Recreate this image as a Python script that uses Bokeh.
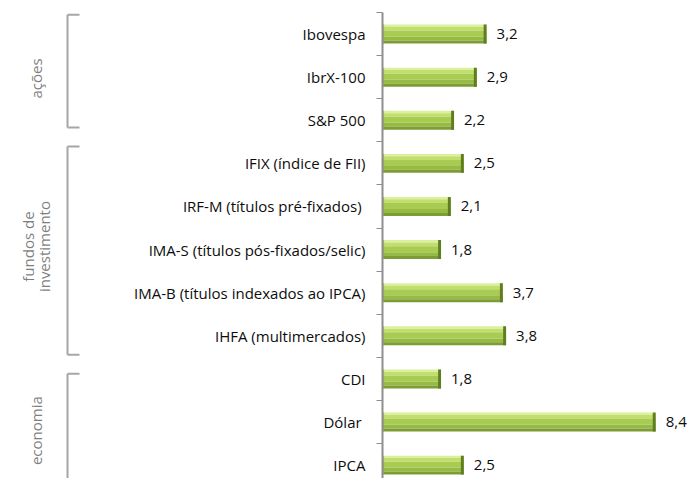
import numpy as np
from bokeh.plotting import figure
from bokeh.layouts import row
from bokeh.models import Range1d, FixedTicker, ColumnDataSource
from bokeh.core.properties import value
from bokeh.embed import file_html
from bokeh.resources import INLINE

# ---- data ----
categories = ["Ibovespa", "IbrX-100", "S&P 500", "IFIX (índice de FII)",
              "IRF-M (títulos  pré-fixados)", "IMA-S (títulos pós-fixados/selic)",
              "IMA-B (títulos indexados ao IPCA)", "IHFA (multimercados)",
              "CDI", "Dólar ", "IPCA"]
values = [3.2, 2.9, 2.2, 2.5, 2.1, 1.8, 3.7, 3.8, 1.8, 8.4, 2.5]
groups = ["ações", "fundos de investimento", "economia"]
group_lines = [["ações"], ["fundos de", "investimento"], ["economia"]]
group_sizes = [3, 5, 3]

FONT = "Open Sans"
n = len(categories)
idx = np.arange(n)
vals = np.array(values)
labels = [f"{v:.1f}".replace(".", ",") for v in values]

y_range = Range1d(start=n - 0.69, end=-0.5)

H = 478
# ---- main chart ----
p = figure(width=582, height=H, output_backend="svg", toolbar_location=None,
           x_range=Range1d(0, 9.44), y_range=y_range,
           min_border_left=275, min_border_right=0, min_border_top=12, min_border_bottom=0)
p.xaxis.visible = False
p.xgrid.visible = False
p.ygrid.visible = False
p.outline_line_color = None
p.background_fill_color = "white"

ax = p.yaxis[0]
ax.ticker = FixedTicker(ticks=list(idx), minor_ticks=list(np.arange(-0.5, n + 0.5, 1.0)))
ax.major_label_overrides = {int(i): c for i, c in zip(idx, categories)}
ax.major_tick_out = 0
ax.major_tick_in = 0
ax.minor_tick_out = 6
ax.minor_tick_in = 0
ax.minor_tick_line_color = "#8e8e8e"
ax.minor_tick_line_width = 1
ax.axis_line_color = "#8e8e8e"
ax.axis_line_width = 2
ax.major_label_standoff = 11
ax.major_label_text_font = FONT
ax.major_label_text_font_size = "15px"
ax.major_label_text_color = "#0d0d0d"

# bar layers (gradient imitation)
layers = [(-0.22, -0.165, "#dbf09c"),
          (-0.165, -0.08, "#c2df6e"),
          (-0.08, 0.06, "#a8cb51"),
          (0.06, 0.15, "#97ba44"),
          (0.15, 0.22, "#7c9d33")]
for y0, y1, col in layers:
    p.hbar(y=idx + (y0 + y1) / 2, height=(y1 - y0), left=0, right=vals,
           fill_color=col, line_color=None)
# left bevel and right cap
p.hbar(y=idx, height=0.44, left=0, right=0.05, fill_color="#8aac3c", line_color=None, fill_alpha=0.6)
p.hbar(y=idx, height=0.44, left=vals - 0.09, right=vals, fill_color="#5f7e22", line_color=None)

src = ColumnDataSource(dict(x=vals, y=idx, t=labels))
p.text(x="x", y="y", text="t", source=src, x_offset=10, text_align="left",
       text_baseline="middle", text_font=value(FONT), text_font_size="15px",
       text_color="#0d0d0d")

# ---- left bracket panel ----
q = figure(width=107, height=H, output_backend="svg", toolbar_location=None,
           x_range=Range1d(0, 107), y_range=y_range,
           min_border_left=0, min_border_right=0, min_border_top=12, min_border_bottom=0)
q.axis.visible = False
q.grid.visible = False
q.outline_line_color = None

starts = np.cumsum([0] + group_sizes[:-1])
ends = starts + np.array(group_sizes) - 1
pad_top = np.array([0.45, 0.39, 0.12])
pad_bot = np.array([0.17, 0.44, 0.8])
ytop = starts - pad_top
ybot = ends + pad_bot
bx, bx2 = 67, 79
bc = "#a6a6a6"
q.segment(x0=bx, x1=bx, y0=ytop, y1=ybot, line_color=bc, line_width=2)
q.segment(x0=bx, x1=bx2, y0=ytop, y1=ytop, line_color=bc, line_width=2)
q.segment(x0=bx, x1=bx2, y0=ybot, y1=ybot, line_color=bc, line_width=2)

mid_off = np.array([0.03, -0.07, 0.2])
gmid = (starts + ends) / 2 + mid_off
tx, ty, tt = [], [], []
for g, lines in enumerate(group_lines):
    k = len(lines)
    for j, ln in enumerate(lines):
        tx.append(35 + (j - (k - 1) / 2) * 16)
        ty.append(gmid[g])
        tt.append(ln)
q.text(x=tx, y=ty, text=tt, angle=np.pi / 2, text_align="center", text_baseline="middle",
       text_font=value(FONT), text_font_size="15px", text_color="#7f7f7f")

layout = row(q, p)
open("out.html", "w").write(file_html(layout, INLINE))
